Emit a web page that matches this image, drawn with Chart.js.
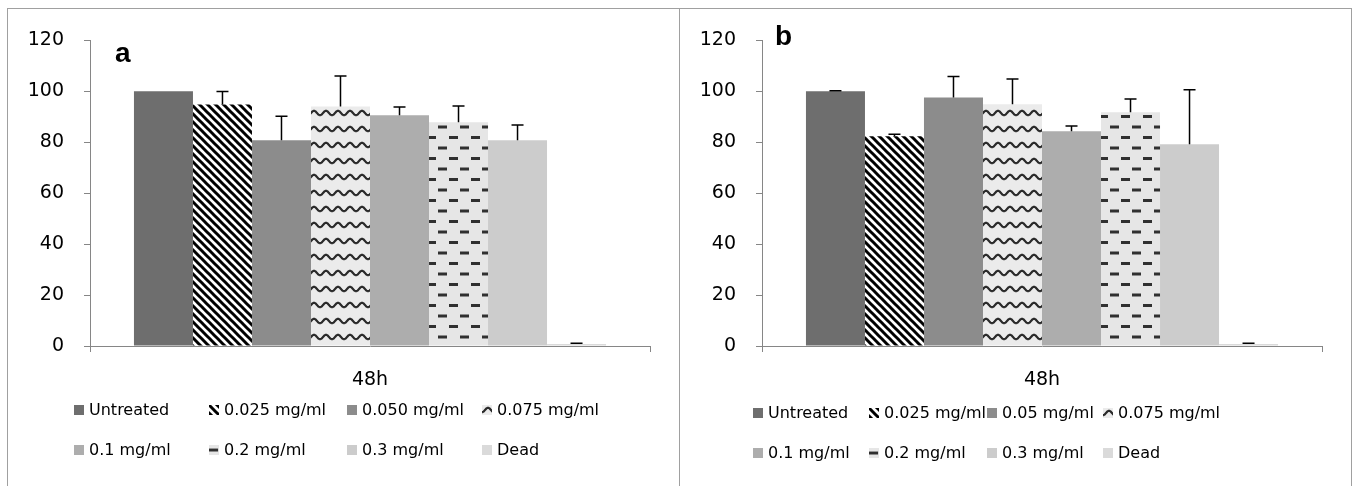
<!DOCTYPE html>
<html>
<head>
<meta charset="utf-8">
<script src="https://cdn.jsdelivr.net/npm/chart.js@4.4.1/dist/chart.umd.min.js"></script>
<style>
  body { margin: 0; background: #fff; }
  .panel { position: absolute; top: 8px; width: 673px; height: 490px; box-sizing: border-box;
           border: 1px solid #a0a0a0; border-bottom: none; }
  #panelA { left: 7px; }
  #panelB { left: 679px; }
  canvas { position: absolute; left: 0; top: 0; }
</style>
</head>
<body>
<div class="panel" id="panelA"><canvas id="chartA" width="670" height="470"></canvas></div>
<div class="panel" id="panelB"><canvas id="chartB" width="670" height="470"></canvas></div>
<script>
// 데이터
var categories = ['48h'];
var seriesA = ['Untreated', '0.025 mg/ml', '0.050 mg/ml', '0.075 mg/ml', '0.1 mg/ml', '0.2 mg/ml', '0.3 mg/ml', 'Dead'];
var seriesB = ['Untreated', '0.025 mg/ml', '0.05 mg/ml', '0.075 mg/ml', '0.1 mg/ml', '0.2 mg/ml', '0.3 mg/ml', 'Dead'];
var valuesA = [100, 94.8, 80.8, 94.0, 90.6, 87.9, 80.8, 0.8];
var errorsA = [0, 5.1, 9.4, 12.0, 3.2, 6.3, 6.0, 0.3];
var valuesB = [100, 82.4, 97.6, 94.9, 84.3, 91.8, 79.2, 0.8];
var errorsB = [0.2, 0.7, 8.2, 9.9, 2.1, 5.2, 21.4, 0.3];
var yTicks = [0, 20, 40, 60, 80, 100, 120];

function makeTile(w, h, draw) {
    var c = document.createElement('canvas');
    c.width = w; c.height = h;
    var g = c.getContext('2d');
    draw(g, w, h);
    return g.createPattern(c, 'repeat');
}

// 패턴
var diag = makeTile(8, 8, function(g, w, h) {
    g.fillStyle = '#fff'; g.fillRect(0, 0, w, h);
    g.strokeStyle = '#000'; g.lineWidth = 3;
    [-8, 0, 8].forEach(function(k) {
        g.beginPath(); g.moveTo(k - 2, -2); g.lineTo(k + 10, 10); g.stroke();
    });
});
var wave = makeTile(12, 16, function(g, w, h) {
    g.fillStyle = '#ebebeb'; g.fillRect(0, 0, w, h);
    g.strokeStyle = '#2a2a2a'; g.lineWidth = 2.2;
    g.beginPath();
    for (var x = 0; x <= w; x += 0.5) {
        var y = 8 + 2.2 * Math.cos(x / w * Math.PI * 2);
        if (x === 0) g.moveTo(x, y); else g.lineTo(x, y);
    }
    g.stroke();
});
var dash = makeTile(22, 21, function(g, w, h) {
    g.fillStyle = '#e6e6e6'; g.fillRect(0, 0, w, h);
    g.fillStyle = '#303030';
    g.fillRect(1, 1, 9, 3);
    g.fillRect(12, 11.5, 9, 3);
});
var fills = ['#6e6e6e', diag, '#8c8c8c', wave, '#adadad', dash, '#cccccc', '#dadada'];
// 범례 상자 안에서 패턴 위치 맞춤
var swatchShift = [[0, 0], [0, 0], [0, 0], [0, -3], [0, 0], [-1, 2.5], [0, 0], [0, 0]];

var fontTick = { family: 'DejaVu Sans', size: 19 };
var axisColor = '#868686';

function makePanel(id, names, values, errors, letter, letterPos, legendX, legendY) {
    var errorBars = {
        id: 'errorBars',
        afterDatasetsDraw: function(chart) {
            var ctx = chart.ctx, y = chart.scales.y;
            ctx.save();
            ctx.strokeStyle = '#000';
            ctx.lineWidth = 1.5;
            chart.data.datasets.forEach(function(ds, i) {
                if (!errors[i]) return;
                var bar = chart.getDatasetMeta(i).data[0];
                var top = y.getPixelForValue(values[i] + errors[i]);
                ctx.beginPath();
                ctx.moveTo(bar.x, bar.y); ctx.lineTo(bar.x, top);
                ctx.moveTo(bar.x - 6, top); ctx.lineTo(bar.x + 6, top);
                ctx.stroke();
            });
            ctx.restore();
        }
    };
    var legendAndLetter = {
        id: 'legendAndLetter',
        afterDraw: function(chart) {
            var ctx = chart.ctx;
            ctx.save();
            ctx.font = '16px "DejaVu Sans"';
            ctx.textBaseline = 'middle';
            names.forEach(function(n, i) {
                var col = i % 4, row = Math.floor(i / 4);
                var bx = legendX[col], cy = legendY[row];
                var ox = swatchShift[i][0], oy = swatchShift[i][1];
                ctx.save();
                ctx.translate(bx + ox, cy - 5 + oy);
                ctx.fillStyle = fills[i];
                ctx.fillRect(-ox, -oy, 10, 10);
                ctx.restore();
                ctx.fillStyle = '#000';
                ctx.fillText(n, bx + 15, cy + 1);
            });
            ctx.fillStyle = '#000';
            ctx.font = 'bold 28px "Liberation Sans"';
            ctx.textBaseline = 'alphabetic';
            ctx.fillText(letter, letterPos[0], letterPos[1]);
            ctx.restore();
        }
    };
    return new Chart(document.getElementById(id), {
        type: 'bar',
        data: {
            labels: categories,
            datasets: names.map(function(n, i) {
                return { label: n, data: [values[i]], backgroundColor: fills[i], borderWidth: 0 };
            })
        },
        options: {
            responsive: false,
            animation: false,
            devicePixelRatio: 1,
            layout: { padding: { left: 0, right: 28, top: 30, bottom: 0 } },
            datasets: { bar: { categoryPercentage: 0.843, barPercentage: 1 } },
            plugins: { legend: { display: false }, tooltip: { enabled: false } },
            scales: {
                x: {
                    grid: { drawOnChartArea: false, color: axisColor, tickLength: 6 },
                    border: { color: axisColor, width: 1 },
                    ticks: { font: fontTick, color: '#000', padding: 17 },
                    afterFit: function(s) { s.height = 133; }
                },
                y: {
                    min: 0, max: 120,
                    afterBuildTicks: function(s) { s.ticks = yTicks.map(function(v) { return { value: v }; }); },
                    grid: { drawOnChartArea: false, color: axisColor, tickLength: 6 },
                    border: { color: axisColor, width: 1 },
                    ticks: { font: fontTick, color: '#000', padding: 20 },
                    afterFit: function(s) { s.width = 82; }
                }
            }
        },
        plugins: [errorBars, legendAndLetter]
    });
}

makePanel('chartA', seriesA, valuesA, errorsA, 'a', [107, 53], [66, 201, 339, 474], [401, 441]);
makePanel('chartB', seriesB, valuesB, errorsB, 'b', [95, 36], [73, 189, 307, 423], [404, 444]);
</script>
</body>
</html>
